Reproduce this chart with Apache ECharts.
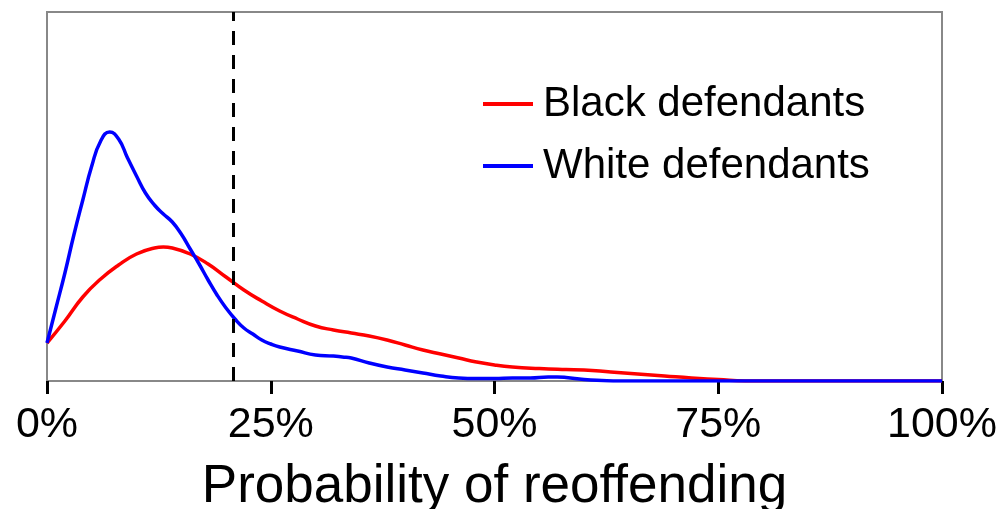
<!DOCTYPE html>
<html>
<head>
<meta charset="utf-8">
<script src="https://cdn.jsdelivr.net/npm/echarts@6/dist/echarts.min.js"></script>
<style>
html,body{margin:0;padding:0;background:#fff;}
#chart{width:1003px;height:509px;}
</style>
</head>
<body>
<div id="chart"></div>
<script>
// x = probability of reoffending (%), y = relative density (arbitrary units)
const blackX = [0,2,4,6,8,10,12,13,14,16,18,20,22,24,26,28,30,32,34,36,38,40,42,44,46,48,50,52,55,58,60,63,66,69,72,75,78,80,90,100];
const blackY = [38,60,84,102,116,127,133,134,133,127,117,104,91,80,70,62,55,51,48,45,41,36,31,27,23,19,16,14,12.5,11.5,11,9,7,5,3,1.5,0,0,0,0];
const whiteX = [0,1,2,3,4,5,6,7,8,9,10,11,12,13,14,15,16,17,18,19,20,21,22,23,24,25,26,28,30,32,33,34,36,38,40,42,44,46,48,50,52,54,56,57,58,60,62,64,70,80,90,100];
const whiteY = [38,73,108,146,181,215,240,249,242,223,205,188,176,167,159,147,132,117,101,86,73,62,53,47,41,37,34,30,26,25,24,23,18,14,11,8,5,3,2.5,2.5,3,3,4,4,3.5,1.5,0.5,0,0,0,0,0];
const threshold = 20.8;
const tickValues = [0,25,50,75,100];
const seriesNames = ['Black defendants','White defendants'];

function zip(xs, ys){ return xs.map((x,i)=>[x, ys[i]]); }

const chart = echarts.init(document.getElementById('chart'), null, {renderer:'canvas'});
chart.setOption({
  animation:false,
  textStyle:{fontFamily:'Liberation Sans, Arial, sans-serif'},
  grid:{left:47, top:12, right:61, bottom:128, containLabel:false, outerBoundsMode:'none',
        show:true, borderColor:'#888', borderWidth:2, backgroundColor:'#fff'},
  legend:{
    orient:'vertical', left:478, top:78, itemWidth:50, itemHeight:4, itemGap:20,
    textStyle:{fontSize:42, color:'#000', fontFamily:'Liberation Sans, Arial, sans-serif', padding:[0,0,0,5]},
    data:[{name:seriesNames[0], icon:'rect'},{name:seriesNames[1], icon:'rect'}]
  },
  xAxis:{
    type:'value', min:0, max:100, interval:25,
    axisLine:{show:true, lineStyle:{color:'#888', width:2}},
    axisTick:{show:true, length:13, lineStyle:{color:'#000', width:3}},
    splitLine:{show:false},
    axisLabel:{fontSize:43, color:'#000', margin:23, formatter:v=>v+'%'},
    name:'Probability of reoffending', nameLocation:'middle', nameGap:80,
    nameTextStyle:{fontSize:53, color:'#000'}
  },
  yAxis:{type:'value', min:0, max:369, show:false, splitLine:{show:false}},
  series:[
    {name:seriesNames[0], type:'line', data:zip(blackX, blackY), smooth:0.5, symbol:'none', showSymbol:false,
     lineStyle:{color:'#ff0000', width:3.5}, itemStyle:{color:'#ff0000'}, z:2,
     markLine:{silent:true, symbol:'none', label:{show:false},
       lineStyle:{color:'#000', width:3, type:[14,10]}, data:[{xAxis:threshold}]}},
    {name:seriesNames[1], type:'line', data:zip(whiteX, whiteY), smooth:0.5, symbol:'none', showSymbol:false,
     lineStyle:{color:'#0000ff', width:3.5}, itemStyle:{color:'#0000ff'}, z:3}
  ]
});
</script>
</body>
</html>
